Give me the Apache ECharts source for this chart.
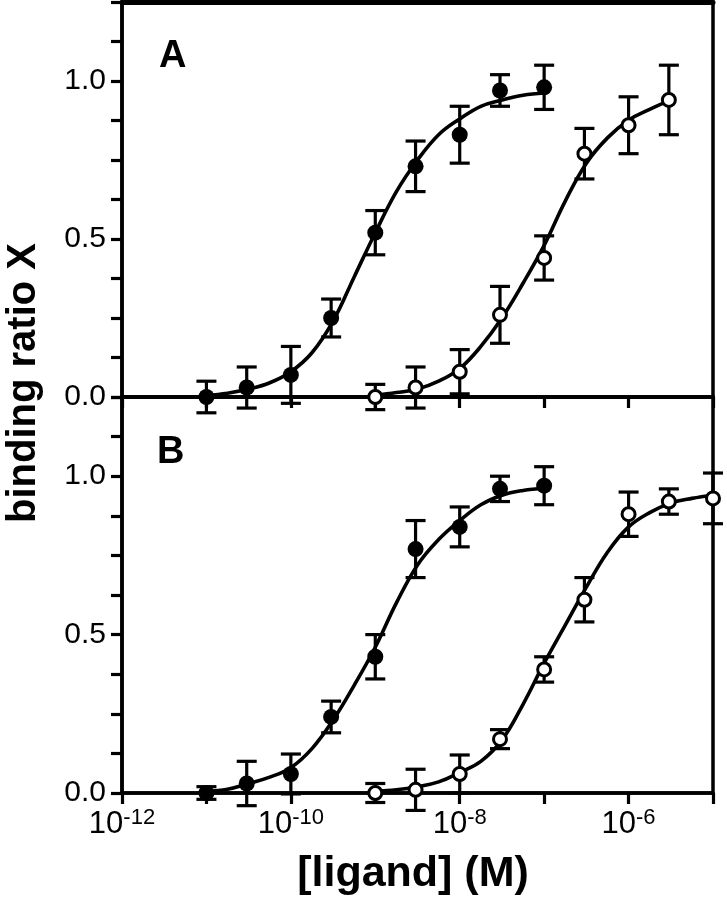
<!DOCTYPE html>
<html><head><meta charset="utf-8">
<script src="https://cdn.jsdelivr.net/npm/echarts@6/dist/echarts.min.js"></script>
<style>html,body{margin:0;padding:0;background:#fff}#c{width:727px;height:899px}</style>
</head><body><div id="c"></div>
<script>
// ---------- data (ligand concentration in M, binding ratio X) ----------
const concFilled = [1e-11, 3e-11, 1e-10, 3e-10, 1e-9, 3e-9, 1e-8, 3e-8, 1e-7];
const concOpenA  = [1e-9, 3e-9, 1e-8, 3e-8, 1e-7, 3e-7, 1e-6, 3e-6];
const concOpenB  = [1e-9, 3e-9, 1e-8, 3e-8, 1e-7, 3e-7, 1e-6, 3e-6, 1e-5];

// Panel A
const filledA    = [0.00, 0.03, 0.07, 0.25, 0.52, 0.73, 0.83, 0.97, 0.98];
const filledAErr = [0.05, 0.065, 0.09, 0.06, 0.07, 0.08, 0.09, 0.05, 0.07];
const openA      = [0.00, 0.03, 0.08, 0.26, 0.44, 0.77, 0.86, 0.94];
const openAErr   = [0.04, 0.065, 0.07, 0.09, 0.07, 0.08, 0.09, 0.11];
// Panel B
const filledB    = [0.00, 0.03, 0.06, 0.24, 0.43, 0.77, 0.84, 0.96, 0.97];
const filledBErr = [0.02, 0.07, 0.063, 0.05, 0.07, 0.09, 0.063, 0.04, 0.06];
const openB      = [0.00, 0.01, 0.06, 0.17, 0.39, 0.61, 0.88, 0.92, 0.93];
const openBErr   = [0.03, 0.065, 0.06, 0.03, 0.04, 0.07, 0.07, 0.04, 0.08];

// fitted curves (x as log10 of concentration)
const curveLogFilled = [-11, -10.75, -10.5, -10.25, -10, -9.75, -9.5, -9.25, -9, -8.75, -8.5, -8.25, -8, -7.75, -7.5, -7.25, -7];
const curveFilledA   = [0.005, 0.012, 0.025, 0.045, 0.08, 0.14, 0.24, 0.38, 0.52, 0.65, 0.75, 0.83, 0.88, 0.92, 0.94, 0.955, 0.962];
const curveFilledB   = [0.005, 0.012, 0.03, 0.05, 0.08, 0.14, 0.23, 0.34, 0.46, 0.60, 0.72, 0.80, 0.86, 0.91, 0.94, 0.955, 0.962];
const curveLogOpenA  = [-9, -8.75, -8.5, -8.25, -8, -7.75, -7.5, -7.25, -7, -6.75, -6.5, -6.25, -6, -5.75, -5.5];
const curveOpenA     = [0.005, 0.014, 0.025, 0.05, 0.09, 0.16, 0.25, 0.36, 0.48, 0.62, 0.74, 0.82, 0.876, 0.91, 0.94];
const curveLogOpenB  = [-9, -8.75, -8.5, -8.25, -8, -7.75, -7.5, -7.25, -7, -6.75, -6.5, -6.25, -6, -5.75, -5.5, -5.25, -5];
const curveOpenB     = [0.005, 0.01, 0.02, 0.035, 0.065, 0.10, 0.167, 0.28, 0.41, 0.53, 0.65, 0.76, 0.84, 0.885, 0.915, 0.93, 0.94];

const xMin = 1e-12, xMax = 1e-5;
const labelledExponents = [-12, -10, -8, -6];
const yLabelValues = [0, 0.5, 1.0];
const panelLetters = ['A', 'B'];
const yTitle = 'binding ratio X';
const xTitle = '[ligand] (M)';

// ---------- chart ----------
const FONT = '"Liberation Sans", Arial, Helvetica, sans-serif';
const chart = echarts.init(document.getElementById('c'), null, {renderer: 'canvas'});

const pairs = (xs, ys) => xs.map((x, i) => [x, ys[i]]);
const triples = (xs, ys, es) => xs.map((x, i) => [x, ys[i], es[i]]);
const curve = (logs, ys) => logs.map((e, i) => [Math.pow(10, e), ys[i]]);

function errRender(params, api) {
  const x = api.value(0), y = api.value(1), e = api.value(2);
  const top = api.coord([x, y + e]);
  const bot = api.coord([x, y - e]);
  const hw = 10;
  const style = {stroke: '#000', lineWidth: 3.2, fill: null};
  return {type: 'group', children: [
    {type: 'line', shape: {x1: top[0], y1: top[1], x2: bot[0], y2: bot[1]}, style: style},
    {type: 'line', shape: {x1: top[0] - hw, y1: top[1], x2: top[0] + hw, y2: top[1]}, style: style},
    {type: 'line', shape: {x1: bot[0] - hw, y1: bot[1], x2: bot[0] + hw, y2: bot[1]}, style: style}
  ]};
}

function xAxisDef(grid, labels) {
  return {
    type: 'log', logBase: 10, gridIndex: grid, min: xMin, max: xMax,
    axisLine: {show: true, lineStyle: {color: '#000', width: 3.5}},
    axisTick: {show: true, inside: false, length: 11, lineStyle: {color: '#000', width: 3.2}},
    splitLine: {show: false}, minorTick: {show: false},
    axisLabel: {
      show: labels, margin: 14, color: '#000', fontFamily: FONT,
      formatter: function (v) {
        const ex = Math.round(Math.log10(v));
        if (labelledExponents.indexOf(ex) < 0) return '';
        return '{b|10}{s|-' + Math.abs(ex) + '}';
      },
      rich: {
        b: {fontSize: 31, lineHeight: 35, fontFamily: FONT, color: '#000'},
        s: {fontSize: 22, lineHeight: 22, verticalAlign: 'top', fontFamily: FONT, color: '#000'}
      }
    }
  };
}
function yAxisDef(grid) {
  return {
    type: 'value', gridIndex: grid, min: 0, max: 1.25, interval: 0.125,
    axisLine: {show: true, lineStyle: {color: '#000', width: 3.5}},
    axisTick: {show: true, inside: false, length: 11, lineStyle: {color: '#000', width: 3.2}},
    splitLine: {show: false},
    axisLabel: {
      margin: 16, fontSize: 30, fontFamily: FONT, color: '#000',
      formatter: function (v) {
        for (const t of yLabelValues) if (Math.abs(v - t) < 1e-6) return t.toFixed(1);
        return '';
      }
    }
  };
}

function seriesSet(xi, fConc, fY, fErr, oConc, oY, oErr, fCurveLog, fCurve, oCurveLog, oCurve) {
  const base = {xAxisIndex: xi, yAxisIndex: xi};
  return [
    Object.assign({type: 'line', data: curve(fCurveLog, fCurve), smooth: 0.4, showSymbol: false, symbol: 'none',
      lineStyle: {color: '#000', width: 3.6}, silent: true, z: 2, clip: false}, base),
    Object.assign({type: 'line', data: curve(oCurveLog, oCurve), smooth: 0.4, showSymbol: false, symbol: 'none',
      lineStyle: {color: '#000', width: 3.6}, silent: true, z: 2, clip: false}, base),
    Object.assign({type: 'custom', renderItem: errRender, data: triples(fConc, fY, fErr),
      encode: {x: 0, y: 1}, z: 3, clip: false, silent: true}, base),
    Object.assign({type: 'custom', renderItem: errRender, data: triples(oConc, oY, oErr),
      encode: {x: 0, y: 1}, z: 3, clip: false, silent: true}, base),
    Object.assign({type: 'scatter', data: pairs(fConc, fY), symbol: 'circle', symbolSize: 16,
      itemStyle: {color: '#000', borderColor: '#000', borderWidth: 0, opacity: 1}, z: 4, clip: false, silent: true}, base),
    Object.assign({type: 'scatter', data: pairs(oConc, oY), symbol: 'circle', symbolSize: 13,
      itemStyle: {color: '#fff', borderColor: '#000', borderWidth: 3, opacity: 1}, z: 4, clip: false, silent: true}, base)
  ];
}

const option = {
  backgroundColor: '#fff',
  animation: false,
  grid: [
    {left: 122, right: 14, top: 2, height: 395, show: true, borderColor: '#000', borderWidth: 3.5, backgroundColor: 'transparent'},
    {left: 122, right: 14, top: 397, height: 396, show: true, borderColor: '#000', borderWidth: 3.5, backgroundColor: 'transparent'}
  ],
  xAxis: [
    xAxisDef(0, false),
    xAxisDef(1, true),
    {type: 'log', logBase: 10, gridIndex: 0, min: xMin, max: xMax, position: 'top',
      axisLine: {show: true, lineStyle: {color: '#000', width: 5}}, axisTick: {show: false},
      axisLabel: {show: false}, splitLine: {show: false}}
  ],
  yAxis: [yAxisDef(0), yAxisDef(1)],
  graphic: [
    {type: 'text', left: 159, top: 38, style: {text: panelLetters[0], font: 'bold 38px ' + FONT, fill: '#000'}},
    {type: 'text', left: 157, top: 434, style: {text: panelLetters[1], font: 'bold 38px ' + FONT, fill: '#000'}},
    {type: 'text', x: 24, y: 383, rotation: Math.PI / 2,
      style: {text: yTitle, font: 'bold 40px ' + FONT, fill: '#000', textAlign: 'center', textVerticalAlign: 'middle'}},
    {type: 'text', x: 413, y: 874,
      style: {text: xTitle, font: 'bold 43px ' + FONT, fill: '#000', textAlign: 'center', textVerticalAlign: 'middle'}}
  ],
  series: [].concat(
    seriesSet(0, concFilled, filledA, filledAErr, concOpenA, openA, openAErr, curveLogFilled, curveFilledA, curveLogOpenA, curveOpenA),
    seriesSet(1, concFilled, filledB, filledBErr, concOpenB, openB, openBErr, curveLogFilled, curveFilledB, curveLogOpenB, curveOpenB)
  )
};
chart.setOption(option);
</script>
</body></html>
